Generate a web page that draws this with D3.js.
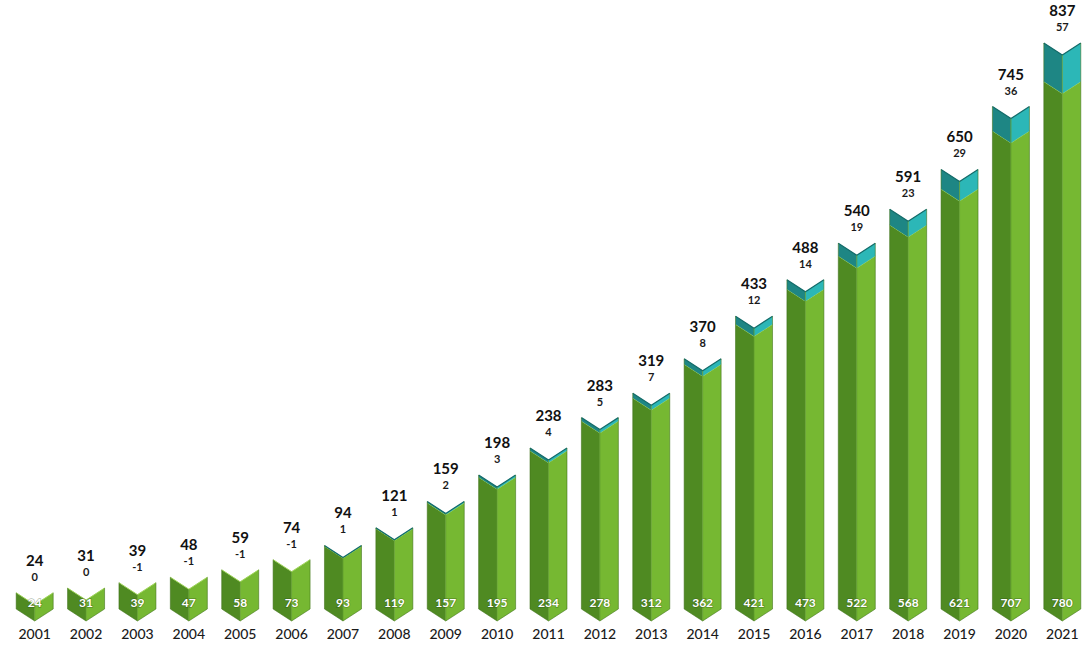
<!DOCTYPE html>
<html>
<head>
<meta charset="utf-8">
<script src="https://cdn.jsdelivr.net/npm/d3@7"></script>
<style>
  html, body { margin: 0; padding: 0; background: #ffffff; }
  svg { display: block; }
  text { font-family: Lato, "Open Sans", sans-serif; }
</style>
</head>
<body>
<svg id="chart" width="1086" height="647"></svg>
<script>
// Yearly figures: base amount, change on top of it, and the stated total
const years   = ["2001","2002","2003","2004","2005","2006","2007","2008","2009","2010","2011","2012","2013","2014","2015","2016","2017","2018","2019","2020","2021"];
const baseVals = [24,31,39,47,58,73,93,119,157,195,234,278,312,362,421,473,522,568,621,707,780];
const topVals  = [0,0,-1,-1,-1,-1,1,1,2,3,4,5,7,8,12,14,19,23,29,36,57];
const totals   = [24,31,39,48,59,74,94,121,159,198,238,283,319,370,433,488,540,591,650,745,837];

const W = 1086, H = 647;
const svg = d3.select("#chart");

const x = d3.scaleBand()
  .domain(years)
  .range([9, 1088])
  .paddingInner(0.28)
  .paddingOuter(0.14);

const y = d3.scaleLinear()
  .domain([0, 837])
  .range([609, 43]);

const notch = 12;   // depth of the V at the top and bottom of each prism

const colors = {
  greenL: "#4f8a22", greenR: "#76b832",
  tealL: "#1e8684", tealR: "#2cb7b7",
  edge: "#3d7018", tealEdge: "#136b69"
};

// One prism segment between two values, split into a left and a right face
function faces(x0, w, v0, v1) {
  const xc = x0 + w / 2, x1 = x0 + w;
  const yA = y(v0), yB = y(v1);
  const left  = [[x0, yB], [xc, yB + notch], [xc, yA + notch], [x0, yA]];
  const right = [[xc, yB + notch], [x1, yB], [x1, yA], [xc, yA + notch]];
  return { left, right };
}

const line = d3.line();
const data = years.map((yr, i) => ({
  year: yr, base: baseVals[i], top: topVals[i], total: totals[i]
}));

const g = svg.append("g");

const bars = g.selectAll("g.bar").data(data).join("g").attr("class", "bar");

bars.each(function(d) {
  const sel = d3.select(this);
  const x0 = x(d.year), w = x.bandwidth();
  const f = faces(x0, w, 0, d.base);
  sel.append("path").attr("d", line(f.left) + "Z").attr("fill", colors.greenL);
  sel.append("path").attr("d", line(f.right) + "Z").attr("fill", colors.greenR);
  // top edge of the green segment
  sel.append("path")
    .attr("d", line([[x0, y(d.base)], [x0 + w / 2, y(d.base) + notch], [x0 + w, y(d.base)]]))
    .attr("fill", "none").attr("stroke", "#9fd45a").attr("stroke-width", 1);
  if (d.top > 0) {
    const t = faces(x0, w, d.base, d.base + d.top);
    sel.append("path").attr("d", line(t.left) + "Z").attr("fill", colors.tealL);
    sel.append("path").attr("d", line(t.right) + "Z").attr("fill", colors.tealR);
    const yt = y(d.base + d.top);
    sel.append("path")
      .attr("d", line([[x0, yt], [x0 + w / 2, yt + notch], [x0 + w, yt]]))
      .attr("fill", "none").attr("stroke", colors.tealEdge).attr("stroke-width", 1.2);
  }
  // outer outline and the centre crease
  const yTop = y(d.base + Math.max(d.top, 0));
  sel.append("path")
    .attr("d", line([[x0, yTop], [x0, y(0)], [x0 + w / 2, y(0) + notch], [x0 + w, y(0)], [x0 + w, yTop]]))
    .attr("fill", "none").attr("stroke", colors.edge).attr("stroke-width", 0.8).attr("stroke-opacity", 0.7);
  sel.append("line")
    .attr("x1", x0 + w / 2).attr("x2", x0 + w / 2)
    .attr("y1", yTop + notch).attr("y2", y(0) + notch)
    .attr("stroke", "#5e9a2c").attr("stroke-width", 0.8);
});

// Base value inside each bar
g.selectAll("text.base").data(data).join("text")
  .attr("class", "base")
  .attr("x", d => x(d.year) + x.bandwidth() / 2)
  .attr("y", y(0) - 2)
  .attr("text-anchor", "middle")
  .attr("font-size", 12)
  .attr("font-weight", 700)
  .attr("fill", "#ffffff")
  .style("paint-order", "stroke")
  .attr("stroke", "rgba(40,70,20,0.35)")
  .attr("stroke-width", 1.5)
  .text(d => d.base);

// Change above each bar
g.selectAll("text.change").data(data).join("text")
  .attr("class", "change")
  .attr("x", d => x(d.year) + x.bandwidth() / 2)
  .attr("y", d => y(d.base + Math.max(d.top, 0)) - 12)
  .attr("text-anchor", "middle")
  .attr("font-size", 11)
  .attr("font-weight", 700)
  .attr("fill", "#1a1a1a")
  .text(d => d.top);

// Total above the change
g.selectAll("text.total").data(data).join("text")
  .attr("class", "total")
  .attr("x", d => x(d.year) + x.bandwidth() / 2)
  .attr("y", d => y(d.base + Math.max(d.top, 0)) - 27)
  .attr("text-anchor", "middle")
  .attr("font-size", 15)
  .attr("font-weight", 700)
  .attr("fill", "#111111")
  .text(d => d.total);

// Year axis along the bottom
const axis = d3.axisBottom(x).tickSize(0).tickPadding(0);
const ax = svg.append("g").attr("transform", "translate(0,629)").call(axis);
ax.select(".domain").remove();
ax.selectAll("text")
  .attr("dy", "0.71em")
  .attr("font-size", 14)
  .attr("font-weight", 500)
  .attr("fill", "#1a1a1a")
  .style("font-family", "Lato, 'Open Sans', sans-serif");
</script>
</body>
</html>
